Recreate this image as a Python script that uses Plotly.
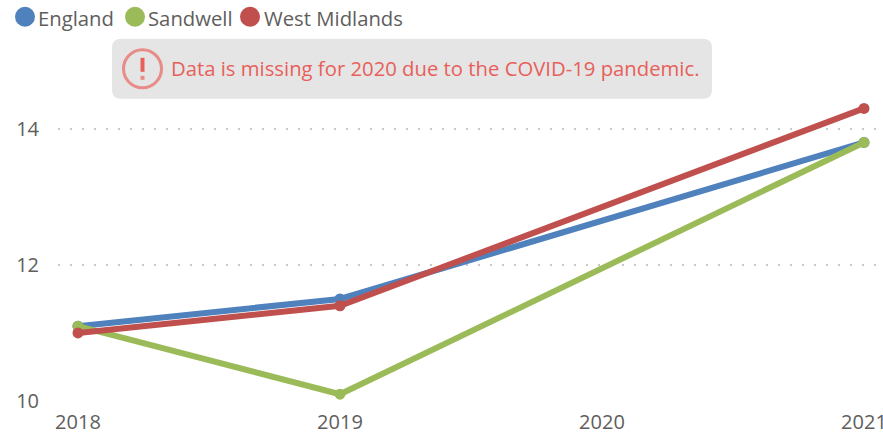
import plotly.graph_objects as go

W, H = 883, 436
L, R, T, B = 58, 3, 88.2, 35

years = [2018, 2019, 2021]
england = [11.1, 11.5, 13.8]
sandwell = [11.1, 10.1, 13.8]
west_midlands = [11.0, 11.4, 14.3]
series_names = ["England", "Sandwell", "West Midlands"]
colors = ["#4F81BD", "#9BBB59", "#C0504D"]
x_ticks = [2018, 2019, 2020, 2021]
y_ticks = [10, 12, 14]
note = "Data is missing for 2020 due to the COVID-19 pandemic."
FONT = "Open Sans"
GREY = "#605E5C"
NOTE_RED = "#E8605A"


def px(x):
    return (x - L) / (W - L - R)


def py(y):
    return 1 - (y - T) / (H - T - B)


fig = go.Figure()
for name, vals, c in zip(series_names, [england, sandwell, west_midlands], colors):
    fig.add_trace(go.Scatter(
        x=years, y=vals, name=name, mode="lines+markers",
        line=dict(color=c, width=6), marker=dict(color=c, size=11),
        cliponaxis=False, showlegend=False))

shapes = []
annotations = []

# legend
for cx, tx, name, c in zip([25, 135, 250], [38, 148, 264], series_names, colors):
    shapes.append(dict(type="circle", xref="paper", yref="paper",
                       x0=px(cx - 10), x1=px(cx + 10), y0=py(27), y1=py(7),
                       fillcolor=c, line_width=0))
    annotations.append(dict(text=name, xref="paper", yref="paper", x=px(tx), y=py(18),
                            xanchor="left", yanchor="middle", showarrow=False, xshift=-2,
                            font=dict(family=FONT, size=20.3, color=GREY)))

# note box
x0, x1, y0, y1, r = px(112), px(712), py(99), py(39), 9
rx, ry = r / (W - L - R), r / (H - T - B)
path = (f"M {x0+rx} {y1} L {x1-rx} {y1} Q {x1} {y1} {x1} {y1-ry} L {x1} {y0+ry} "
        f"Q {x1} {y0} {x1-rx} {y0} L {x0+rx} {y0} Q {x0} {y0} {x0} {y0+ry} "
        f"L {x0} {y1-ry} Q {x0} {y1} {x0+rx} {y1} Z")
shapes.append(dict(type="path", path=path, xref="paper", yref="paper",
                   fillcolor="#E5E5E5", line_width=0, layer="below"))
shapes.append(dict(type="circle", xref="paper", yref="paper",
                   x0=px(123.5), x1=px(161.5), y0=py(88), y1=py(50),
                   fillcolor="rgba(0,0,0,0)", line=dict(color="#E88C88", width=3)))
shapes.append(dict(type="rect", xref="paper", yref="paper",
                   x0=px(140.5), x1=px(144.5), y0=py(72), y1=py(58),
                   fillcolor=NOTE_RED, line_width=0))
shapes.append(dict(type="rect", xref="paper", yref="paper",
                   x0=px(140.5), x1=px(144.5), y0=py(80), y1=py(76),
                   fillcolor="#E88C88", line_width=0))
annotations.append(dict(text=note, xref="paper", yref="paper", x=px(171), y=py(68),
                        xanchor="left", yanchor="middle", showarrow=False, xshift=-2,
                        font=dict(family=FONT, size=20.3, color=NOTE_RED)))

fig.update_layout(
    width=W, height=H, margin=dict(l=L, r=R, t=T, b=B, autoexpand=False),
    paper_bgcolor="white", plot_bgcolor="white", showlegend=False,
    font=dict(family=FONT, size=20, color=GREY),
    shapes=shapes, annotations=annotations,
    xaxis=dict(range=[2017.9237, 2021.0611], tickmode="array", tickvals=x_ticks,
               ticktext=[str(v) for v in x_ticks], showgrid=False, zeroline=False,
               showline=False, ticks="outside", ticklen=3, tickcolor="rgba(0,0,0,0)",
               ticklabeloverflow="allow", tickfont=dict(size=20, color=GREY)),
    yaxis=dict(range=[10, 14.6], tickmode="array", tickvals=y_ticks,
               showgrid=True, gridcolor="#C8C8C8", gridwidth=2, griddash="2px,10px",
               zeroline=False, showline=False, ticks="outside", ticklen=14,
               tickcolor="rgba(0,0,0,0)", tickfont=dict(size=20, color=GREY)),
)
fig.write_html("out.html", config=dict(displayModeBar=False),
               post_script="document.body.style.margin='0';document.body.style.overflow='hidden';")
